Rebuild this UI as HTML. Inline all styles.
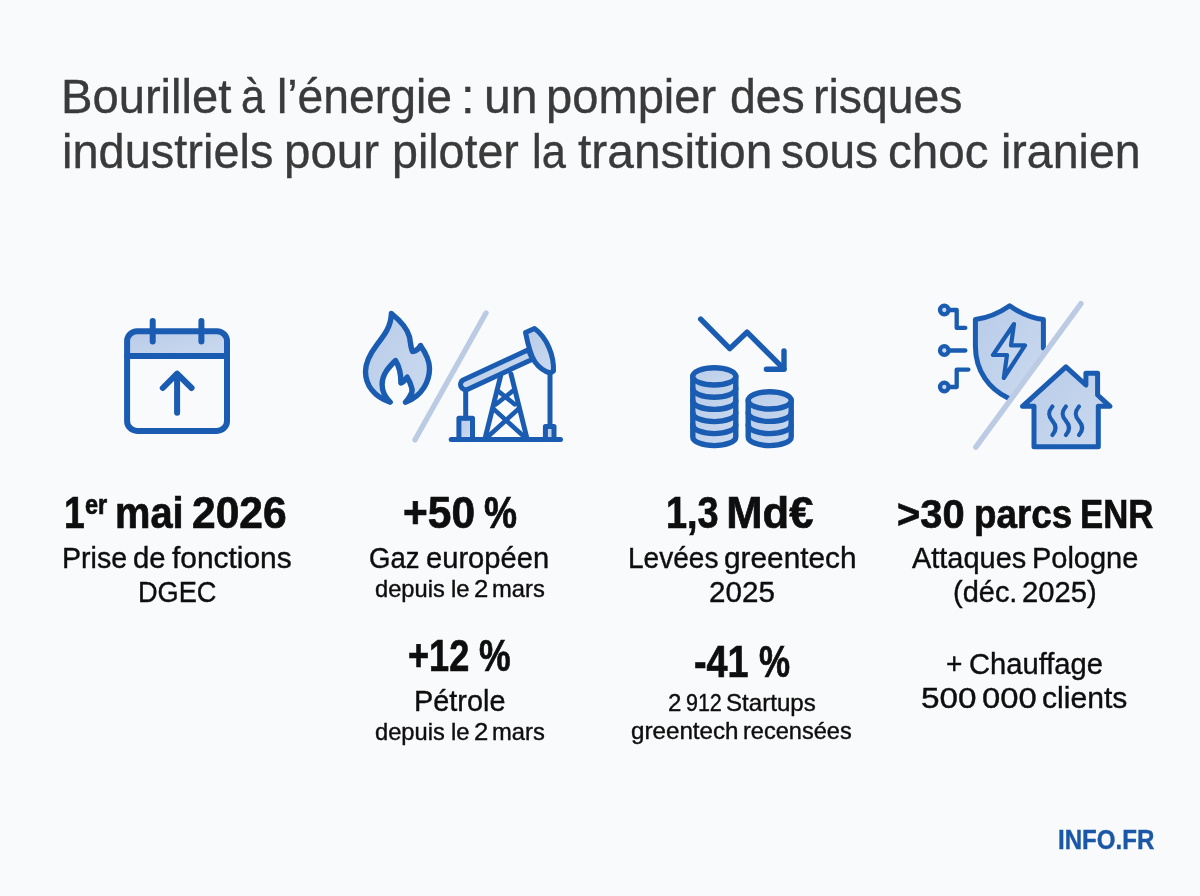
<!DOCTYPE html>
<html lang="fr"><head><meta charset="utf-8"><title>Bourillet à l’énergie</title>
<style>
*{margin:0;padding:0;box-sizing:border-box}
html,body{width:1200px;height:896px;overflow:hidden;background:#f9fafc}
body{position:relative;font-family:"Liberation Sans",sans-serif}
h1,p,header,main,section,footer{display:block;font:inherit;margin:0;padding:0}
.l{position:absolute;display:block;left:0;top:0;width:1200px;height:0;white-space:nowrap;line-height:1;font-style:normal}
.l span,.l sup{position:absolute;display:block;transform-origin:0 0;white-space:nowrap;line-height:1;vertical-align:baseline}
svg.ic{position:absolute;left:0;top:0;width:1200px;height:896px}
</style></head>
<body>
<svg class="ic" viewBox="0 0 1200 896" width="1200" height="896" fill="none" stroke="#1a5cb1" stroke-width="6" stroke-linecap="round" stroke-linejoin="round">
<defs>
<linearGradient id="lg" x1="0" y1="0" x2="1" y2="1"><stop offset="0" stop-color="#b8cbe8"/><stop offset="1" stop-color="#cbdaef"/></linearGradient>
</defs>
<!-- calendar -->
<g id="cal">
<path d="M127.1 356 V341.2 a10 10 0 0 1 10 -10 H217 a10 10 0 0 1 10 10 V356 Z" fill="url(#lg)" stroke="none"/>
<rect x="127.1" y="331.2" width="99.9" height="99.7" rx="10" ry="10"/>
<path d="M127.1 356 H227"/>
<path d="M152.7 321 V341.5 M201.4 321 V341.5"/>
<path d="M177.1 374 V412.7 M162.8 388 L177.1 373.7 L191.6 388"/>
</g>
<!-- flame -->
<g id="flame">
<path d="M391.4 313.5 C397 318 407 327 409.5 337 C410.5 342 410.5 347 412.5 351.5 C416 351 419 348.5 420.5 345.5 C425 352 429.5 359 429.5 368.5 C429.5 380 423 396 405.4 402.2 C410 397 413.5 392.5 411.6 387.5 C410.5 383.5 409 380 407.1 377.2 C405.5 380 403.5 382 400.9 383 C401 374 399 366 395.5 360.5 C389.5 366.5 382.1 374 382.1 384.5 C382.1 391 385 397 390.2 402.2 C374 397 365.5 385 365.5 371.5 C365.5 361 371 352.5 377 344.6 C384 335.5 391 327 391.4 313.5 Z" fill="url(#lg)" stroke-width="5.4"/>
</g>
<!-- slash 1 -->
<path d="M486 313 L415 439.8" stroke="#bccbe4" stroke-width="5.4"/>
<!-- pump -->
<g id="pump" stroke-width="5">
<path d="M451.2 439.6 H560.5"/>
<rect x="458.9" y="418.2" width="13.6" height="21.4" fill="url(#lg)"/>
<path d="M465.7 392 V418"/>
<rect x="545.4" y="426.6" width="8.6" height="13" fill="url(#lg)"/>
<path d="M550 373 V426.5"/>
<path d="M484.9 439 L500.6 376 M527.1 439 L511 374"/>
<path d="M497.2 390.3 L514.6 404.2 M513.6 390.3 L496 404.2 M493.2 408.6 L524.5 437 M518.8 408.6 L487.5 437" stroke-width="4.6"/>
<path d="M467.4 389.4 L532.5 359.2 L528.2 349.8 L463.1 380 A5.2 5.2 0 0 0 467.4 389.4 Z" fill="url(#lg)"/>
<path d="M534.5 328.5 L525.5 332.5 C528 345 531 356 535 362 C539 367.5 545 371.5 550 373 L553.5 371 C554 356 547.5 338 534.5 328.5 Z" fill="url(#lg)"/>
</g>
<!-- arrow down -->
<g id="arrow" stroke-width="5.4">
<path d="M700.7 319.2 L729.8 348.6 L747 332.2 L783.8 368.9"/>
<path d="M784 351 V369.3 H766.4"/>
</g>
<!-- coins -->
<g id="coins" stroke-width="5.4">
<path d="M692.8 376.4 V437 A21.5 8.6 0 0 0 735.8 437 V376.4 Z" fill="url(#lg)"/>
<ellipse cx="714.3" cy="376.4" rx="21.5" ry="8.6" fill="url(#lg)"/>
<path d="M692.8 388.6 A21.5 8.6 0 0 0 735.8 388.6 M692.8 400.8 A21.5 8.6 0 0 0 735.8 400.8 M692.8 413 A21.5 8.6 0 0 0 735.8 413 M692.8 425 A21.5 8.6 0 0 0 735.8 425"/>
<path d="M748.2 400.4 V437 A21.5 8.6 0 0 0 791.2 437 V400.4 Z" fill="url(#lg)"/>
<ellipse cx="769.7" cy="400.4" rx="21.5" ry="8.6" fill="url(#lg)"/>
<path d="M748.2 412.8 A21.5 8.6 0 0 0 791.2 412.8 M748.2 425 A21.5 8.6 0 0 0 791.2 425"/>
</g>
<!-- shield -->
<g id="shield" stroke-width="5">
<path d="M1009.7 305.8 C1000 312.5 989 317.8 975.4 319.6 V346 C975.4 372 990 389.5 1008 398 L1010.5 399.8 L1043.4 354.9 V319.6 C1029.8 317.8 1019 312.5 1009.7 305.8 Z" fill="url(#lg)" stroke="none"/>
<path d="M1007.6 397.8 C990 389 975.4 372 975.4 346 V319.6 C989 317.8 1000 312.5 1009.7 305.8 C1019 312.5 1029.8 317.8 1043.4 319.6 V348"/>
<path d="M1014 324 L993 355 H1007 L1003.8 378 L1025 345.4 H1011 Z" stroke-width="4.2" fill="#c6d6ee"/>
</g>
<!-- slash 2 -->
<path d="M1081 303.6 L975.8 447.2" stroke="#bccbe4" stroke-width="5.4"/>
<!-- circuit -->
<g id="circ" stroke-width="4.3">
<circle cx="944.3" cy="310" r="4.3" fill="#c8d8f0"/>
<circle cx="944.3" cy="350.5" r="4.3" fill="#c8d8f0"/>
<circle cx="944.3" cy="387" r="4.3" fill="#c8d8f0"/>
<path d="M949 310 H956.7 V327.9 H965.3"/>
<path d="M949 350.5 H965.3"/>
<path d="M949 387 H956.7 V369.6 H968.4"/>
</g>
<!-- house -->
<g id="house" stroke-width="5">
<path d="M1022.5 406.3 L1065.9 366.8 L1085.9 385 V373.3 H1097.6 V395 L1110 406.3 H1098.3 V446.8 H1034 V406.3 Z" fill="url(#lg)"/>
<path d="M1052.4 406.5 C1047 413 1049 417 1052.4 420.8 S1057.5 429 1052.4 435 M1065.9 406.5 C1060.5 413 1062.5 417 1065.9 420.8 S1071 429 1065.9 435 M1079 406.5 C1073.6 413 1075.6 417 1079 420.8 S1084.1 429 1079 435" stroke-width="4.2"/>
</g>
</svg>

<header><h1><span class="l" id="t1" style="font-size:48.3px;font-weight:400;color:#3a3a3a;-webkit-text-stroke:0.35px #3a3a3a"><span id="t1_0" style="left:61.14px;top:72px;transform:scaleX(0.9762)">Bourillet</span> <span id="t1_1" style="left:241.48px;top:72px;transform:scaleX(0.8901)">à</span> <span id="t1_2" style="left:277.17px;top:72px;transform:scaleX(0.9584)">l’énergie</span> <span id="t1_3" style="left:461.48px;top:72px;transform:scaleX(1.0085)">:</span> <span id="t1_4" style="left:484.35px;top:72px;transform:scaleX(0.9977)">un</span> <span id="t1_5" style="left:545.53px;top:72px;transform:scaleX(0.9755)">pompier</span> <span id="t1_6" style="left:729.69px;top:72px;transform:scaleX(0.9609)">des</span> <span id="t1_7" style="left:813.22px;top:72px;transform:scaleX(0.9596)">risques</span></span>
<span class="l" id="t2" style="font-size:48.3px;font-weight:400;color:#3a3a3a;-webkit-text-stroke:0.35px #3a3a3a"><span id="t2_0" style="left:61.75px;top:127px;transform:scaleX(0.9726)">industriels</span> <span id="t2_1" style="left:284.05px;top:127px;transform:scaleX(0.9832)">pour</span> <span id="t2_2" style="left:392.42px;top:127px;transform:scaleX(0.9643)">piloter</span> <span id="t2_3" style="left:532.14px;top:127px;transform:scaleX(0.8991)">la</span> <span id="t2_4" style="left:577.81px;top:127px;transform:scaleX(0.9917)">transition</span> <span id="t2_5" style="left:780.81px;top:127px;transform:scaleX(0.9512)">sous</span> <span id="t2_6" style="left:888.40px;top:127px;transform:scaleX(0.9849)">choc</span> <span id="t2_7" style="left:1001.15px;top:127px;transform:scaleX(0.9637)">iranien</span></span></h1></header>
<main>
<section class="col">
<p><strong class="l" id="a1" style="font-size:43.6px;font-weight:700;color:#0e0e0e;-webkit-text-stroke:0.7px #0e0e0e"><span id="a1_0" style="left:64.21px;top:492px;transform:scaleX(0.8559)">1</span><sup id="a1_1" style="left:84.66px;top:491px;transform:scaleX(0.8543);font-size:27.47px">er</sup> <span id="a1_2" style="left:115.07px;top:492px;transform:scaleX(0.9135)">mai</span> <span id="a1_3" style="left:192.13px;top:492px;transform:scaleX(0.9757)">2026</span></strong></p>
<p><span class="l" id="a2" style="font-size:30.4px;font-weight:400;color:#0e0e0e;-webkit-text-stroke:0.4px #0e0e0e"><span id="a2_0" style="left:61.85px;top:542px;transform:scaleX(0.9402)">Prise</span> <span id="a2_1" style="left:132.87px;top:542px;transform:scaleX(0.9630)">de</span> <span id="a2_2" style="left:171.91px;top:542px;transform:scaleX(0.9841)">fonctions</span></span></p>
<p><span class="l" id="a3" style="font-size:30.4px;font-weight:400;color:#0e0e0e;-webkit-text-stroke:0.4px #0e0e0e"><span id="a3_0" style="left:138.21px;top:576px;transform:scaleX(0.8936)">DGEC</span></span></p>
</section>
<section class="col">
<p><strong class="l" id="b1" style="font-size:43.6px;font-weight:700;color:#0e0e0e;-webkit-text-stroke:0.7px #0e0e0e"><span id="b1_0" style="left:402.75px;top:492px;transform:scaleX(0.9735)">+50</span> <span id="b1_1" style="left:483.68px;top:492px;transform:scaleX(0.8525)">%</span></strong></p>
<p><span class="l" id="b2" style="font-size:30.4px;font-weight:400;color:#0e0e0e;-webkit-text-stroke:0.4px #0e0e0e"><span id="b2_0" style="left:368.95px;top:542px;transform:scaleX(0.9051)">Gaz</span> <span id="b2_1" style="left:426.40px;top:542px;transform:scaleX(0.9583)">européen</span></span></p>
<p><span class="l" id="b3" style="font-size:24.0px;font-weight:400;color:#0e0e0e;-webkit-text-stroke:0.4px #0e0e0e"><span id="b3_0" style="left:374.55px;top:577px;transform:scaleX(0.9864)">depuis</span> <span id="b3_1" style="left:450.95px;top:577px;transform:scaleX(0.9900)">le</span> <span id="b3_2" style="left:473.86px;top:577px;transform:scaleX(1.0722)">2</span> <span id="b3_3" style="left:492.38px;top:577px;transform:scaleX(0.9890)">mars</span></span></p>
<p><strong class="l" id="b4" style="font-size:43.6px;font-weight:700;color:#0e0e0e;-webkit-text-stroke:0.7px #0e0e0e"><span id="b4_0" style="left:408.26px;top:635px;transform:scaleX(0.8286)">+12</span> <span id="b4_1" style="left:479.33px;top:635px;transform:scaleX(0.8165)">%</span></strong></p>
<p><span class="l" id="b5" style="font-size:30.4px;font-weight:400;color:#0e0e0e;-webkit-text-stroke:0.4px #0e0e0e"><span id="b5_0" style="left:413.79px;top:685px;transform:scaleX(0.9495)">Pétrole</span></span></p>
<p><span class="l" id="b6" style="font-size:24.0px;font-weight:400;color:#0e0e0e;-webkit-text-stroke:0.4px #0e0e0e"><span id="b6_0" style="left:374.55px;top:720px;transform:scaleX(0.9864)">depuis</span> <span id="b6_1" style="left:450.95px;top:720px;transform:scaleX(0.9900)">le</span> <span id="b6_2" style="left:473.86px;top:720px;transform:scaleX(1.0722)">2</span> <span id="b6_3" style="left:492.38px;top:720px;transform:scaleX(0.9890)">mars</span></span></p>
</section>
<section class="col">
<p><strong class="l" id="c1" style="font-size:43.6px;font-weight:700;color:#0e0e0e;-webkit-text-stroke:0.7px #0e0e0e"><span id="c1_0" style="left:666.34px;top:492px;transform:scaleX(0.8697)">1,3</span> <span id="c1_1" style="left:726.22px;top:492px;transform:scaleX(1.0000)">Md€</span></strong></p>
<p><span class="l" id="c2" style="font-size:30.4px;font-weight:400;color:#0e0e0e;-webkit-text-stroke:0.4px #0e0e0e"><span id="c2_0" style="left:628.10px;top:542px;transform:scaleX(0.9227)">Levées</span> <span id="c2_1" style="left:723.66px;top:542px;transform:scaleX(0.9808)">greentech</span></span></p>
<p><span class="l" id="c3" style="font-size:30.4px;font-weight:400;color:#0e0e0e;-webkit-text-stroke:0.4px #0e0e0e"><span id="c3_0" style="left:708.59px;top:576px;transform:scaleX(0.9738)">2025</span></span></p>
<p><strong class="l" id="c4" style="font-size:43.6px;font-weight:700;color:#0e0e0e;-webkit-text-stroke:0.7px #0e0e0e"><span id="c4_0" style="left:694.07px;top:641px;transform:scaleX(0.8656)">-41</span> <span id="c4_1" style="left:759.37px;top:641px;transform:scaleX(0.8014)">%</span></strong></p>
<p><span class="l" id="c5" style="font-size:24.0px;font-weight:400;color:#0e0e0e;-webkit-text-stroke:0.4px #0e0e0e"><span id="c5_0" style="left:667.70px;top:691px;transform:scaleX(1.0019)">2</span> <span id="c5_1" style="left:685.70px;top:691px;transform:scaleX(0.8941)">912</span> <span id="c5_2" style="left:726.19px;top:691px;transform:scaleX(1.0041)">Startups</span></span></p>
<p><span class="l" id="c6" style="font-size:24.0px;font-weight:400;color:#0e0e0e;-webkit-text-stroke:0.4px #0e0e0e"><span id="c6_0" style="left:630.89px;top:719px;transform:scaleX(1.0072)">greentech</span> <span id="c6_1" style="left:743.22px;top:719px;transform:scaleX(0.9818)">recensées</span></span></p>
</section>
<section class="col">
<p><strong class="l" id="d1" style="font-size:40.8px;font-weight:700;color:#0e0e0e;-webkit-text-stroke:0.7px #0e0e0e"><span id="d1_0" style="left:896.88px;top:494px;transform:scaleX(0.9769)">&gt;30</span> <span id="d1_1" style="left:973.74px;top:494px;transform:scaleX(0.9011)">parcs</span> <span id="d1_2" style="left:1080.26px;top:494px;transform:scaleX(0.8519)">ENR</span></strong></p>
<p><span class="l" id="d2" style="font-size:30.4px;font-weight:400;color:#0e0e0e;-webkit-text-stroke:0.4px #0e0e0e"><span id="d2_0" style="left:912.13px;top:542px;transform:scaleX(0.9520)">Attaques</span> <span id="d2_1" style="left:1032.38px;top:542px;transform:scaleX(0.9528)">Pologne</span></span></p>
<p><span class="l" id="d3" style="font-size:30.4px;font-weight:400;color:#0e0e0e;-webkit-text-stroke:0.4px #0e0e0e"><span id="d3_0" style="left:953.39px;top:576px;transform:scaleX(0.9535)">(déc.</span> <span id="d3_1" style="left:1022.22px;top:576px;transform:scaleX(0.9604)">2025)</span></span></p>
<p><span class="l" id="d4" style="font-size:30.4px;font-weight:400;color:#0e0e0e;-webkit-text-stroke:0.4px #0e0e0e"><span id="d4_0" style="left:946.40px;top:648px;transform:scaleX(0.9239)">+</span> <span id="d4_1" style="left:969.00px;top:648px;transform:scaleX(0.9588)">Chauffage</span></span></p>
<p><span class="l" id="d5" style="font-size:30.4px;font-weight:400;color:#0e0e0e;-webkit-text-stroke:0.4px #0e0e0e"><span id="d5_0" style="left:921.27px;top:682px;transform:scaleX(1.0954)">500</span> <span id="d5_1" style="left:982.44px;top:682px;transform:scaleX(1.0795)">000</span> <span id="d5_2" style="left:1042.40px;top:682px;transform:scaleX(0.9905)">clients</span></span></p>
</section>
</main>
<footer><span class="l" id="logo" style="font-size:26.8px;font-weight:700;color:#1a57a6;-webkit-text-stroke:0.4px #1a57a6"><span id="logo_0" style="left:1057.68px;top:827px;transform:scaleX(0.8987)">INFO.FR</span></span></footer>
</body></html>
